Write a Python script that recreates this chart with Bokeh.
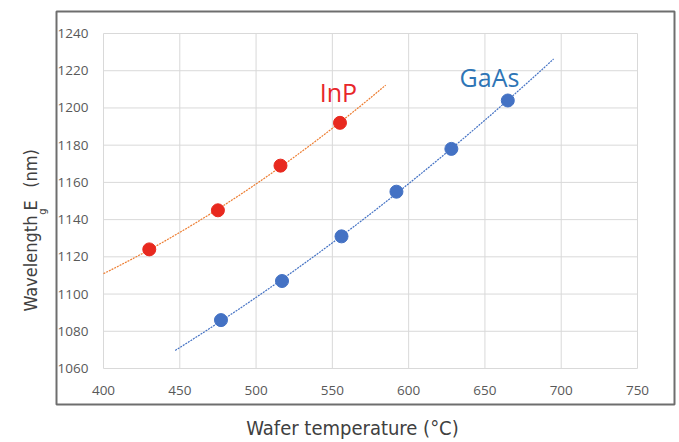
import numpy as np
from bokeh.plotting import figure
from bokeh.models import FixedTicker, Label, BoxAnnotation
from bokeh.embed import file_html
from bokeh.resources import INLINE

# ---- data ----
inp_temp = [430, 475, 516, 555]
inp_wl = [1124, 1145, 1169, 1192]
gaas_temp = [477, 517, 556, 592, 628, 665]
gaas_wl = [1086, 1107, 1131, 1155, 1178, 1204]
x_ticks = [400, 450, 500, 550, 600, 650, 700, 750]
y_ticks = [1060, 1080, 1100, 1120, 1140, 1160, 1180, 1200, 1220, 1240]
series_names = ["InP", "GaAs"]
trend_forecast = 30  # trendline extended this many °C on each side

INP_PT = "#E8291F"
INP_TR = "#ED7D31"
INP_TXT = "#E8262A"
GAAS_PT = "#4472C4"
GAAS_TR = "#4472C4"
GAAS_TXT = "#2E75B6"
GRID = "#D9D9D9"
TITLE_COL = "#404040"
TITLE_FONT = "DejaVu Sans Condensed, Liberation Sans Narrow, sans-serif"

# The frame covers the whole canvas so that nothing is clipped; the gridded plot
# area (400-750 x 1060-1240) sits inside it, with axes drawn at fixed locations.
W, H = 679, 442
p = figure(width=W, height=H, x_range=(332.49, 777.53), y_range=(1020.24, 1257.73),
           output_backend="svg", toolbar_location=None,
           min_border=0, min_border_left=0, min_border_right=0,
           min_border_top=0, min_border_bottom=0)
p.background_fill_color = "white"
p.border_fill_color = "white"
p.outline_line_color = None
p.grid.visible = False

# chart-area frame
p.add_layout(BoxAnnotation(left=56, right=674, top=11, bottom=404,
                           left_units="canvas", right_units="canvas",
                           top_units="canvas", bottom_units="canvas",
                           fill_color=None, fill_alpha=0,
                           line_color="#6E6E6E", line_width=2, line_alpha=1))

# gridlines spanning only the tick extents
p.segment(x0=x_ticks, x1=x_ticks, y0=[y_ticks[0]] * len(x_ticks), y1=[y_ticks[-1]] * len(x_ticks),
          line_color=GRID, line_width=1)
p.segment(x0=[x_ticks[0]] * len(y_ticks), x1=[x_ticks[-1]] * len(y_ticks), y0=y_ticks, y1=y_ticks,
          line_color=GRID, line_width=1)

for ax, ticks in ((p.xaxis[0], x_ticks), (p.yaxis[0], y_ticks)):
    ax.ticker = FixedTicker(ticks=ticks)
    ax.axis_line_color = None
    ax.major_tick_line_color = None
    ax.minor_tick_line_color = None
    ax.major_tick_out = 0
    ax.major_tick_in = 0
    ax.minor_tick_out = 0
    ax.minor_tick_in = 0
    ax.major_label_text_font = "Open Sans"
    ax.major_label_text_font_size = "13.5px"
    ax.major_label_text_color = "#595959"
p.xaxis.fixed_location = y_ticks[0]
p.yaxis.fixed_location = x_ticks[0]
p.xaxis.major_label_standoff = 17
p.yaxis.major_label_standoff = 15

# trendlines (2nd-order polynomial fits of the data, as in the source chart)
for xs, ys, col in ((inp_temp, inp_wl, INP_TR), (gaas_temp, gaas_wl, GAAS_TR)):
    coef = np.polyfit(xs, ys, 2)
    tx = np.linspace(min(xs) - trend_forecast, max(xs) + trend_forecast, 120)
    p.line(tx, np.polyval(coef, tx), line_color=col, line_width=1.2, line_dash="2 1")

p.scatter(inp_temp, inp_wl, size=13, fill_color=INP_PT, line_color=INP_PT)
p.scatter(gaas_temp, gaas_wl, size=13, fill_color=GAAS_PT, line_color=GAAS_PT)

p.add_layout(Label(x=554, y=1208.5, text=series_names[0], text_align="center",
                   text_baseline="middle", text_font="Open Sans",
                   text_font_size="25px", text_color=INP_TXT))
p.add_layout(Label(x=653, y=1216.5, text=series_names[1], text_align="center",
                   text_baseline="middle", text_font="Open Sans",
                   text_font_size="25px", text_color=GAAS_TXT))

# axis titles (outside the framed chart area)
p.add_layout(Label(x=352, y=427.5, x_units="canvas", y_units="canvas",
                   text="Wafer temperature (°C)", text_align="center",
                   text_baseline="middle", text_font=TITLE_FONT,
                   text_font_size="20px", text_color=TITLE_COL))
p.add_layout(Label(x=30, y=311, x_units="canvas", y_units="canvas",
                   text="Wavelength E", angle=np.pi / 2,
                   text_align="left", text_baseline="middle", text_font=TITLE_FONT,
                   text_font_size="18px", text_color=TITLE_COL))
p.add_layout(Label(x=42, y=211, x_units="canvas", y_units="canvas",
                   text="g", angle=np.pi / 2,
                   text_align="center", text_baseline="middle", text_font=TITLE_FONT,
                   text_font_size="11px", text_color=TITLE_COL))
p.add_layout(Label(x=30, y=168, x_units="canvas", y_units="canvas",
                   text="(nm)", angle=np.pi / 2,
                   text_align="center", text_baseline="middle", text_font=TITLE_FONT,
                   text_font_size="18px", text_color=TITLE_COL))

open("out.html", "w").write(file_html(p, INLINE))
